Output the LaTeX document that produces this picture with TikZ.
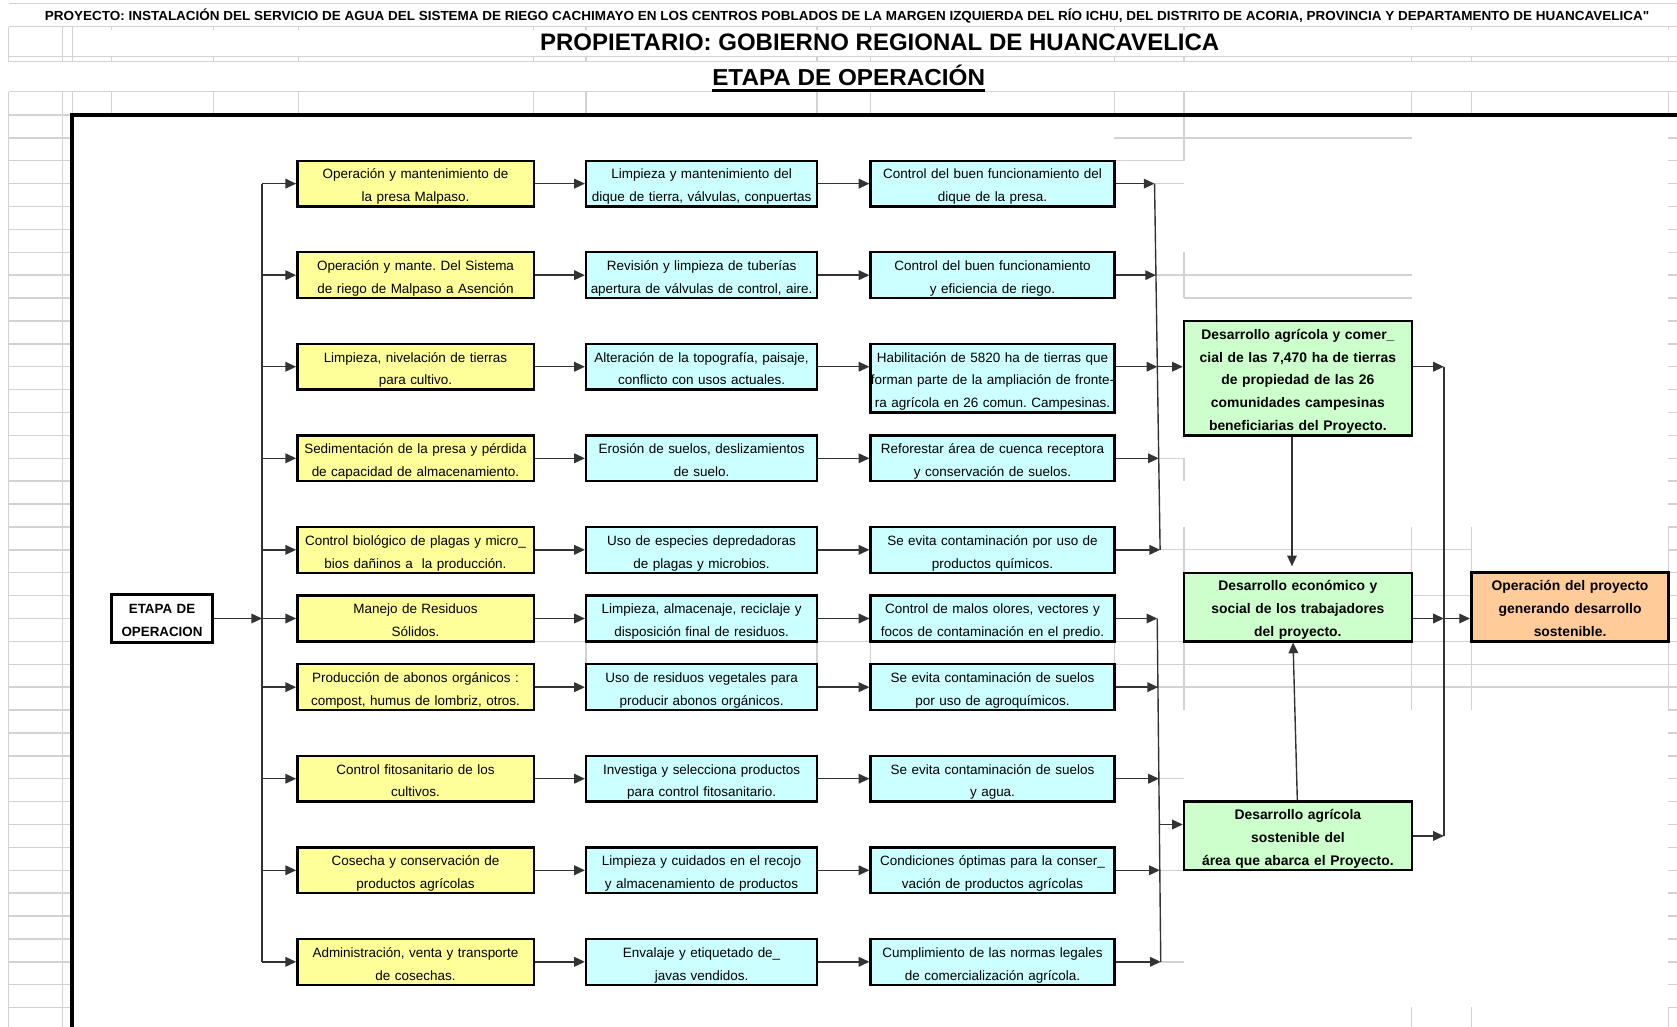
\documentclass[tikz,border=0pt]{standalone}
\usepackage{fontspec}
\setmainfont{Liberation Sans}
\newfontfamily\rawsans{Liberation Sans}[Ligatures=TeXOff]
\usepackage{graphicx}
\usetikzlibrary{arrows.meta,calc}
\definecolor{yfill}{HTML}{FFFF99}
\definecolor{cfill}{HTML}{CCFFFF}
\definecolor{gfill}{HTML}{CCFFCC}
\definecolor{ofill}{HTML}{FFCC99}
\definecolor{gridc}{HTML}{D2D2D2}
\frenchspacing
\begin{document}
\begin{tikzpicture}[x=1pt,y=-1pt,
  box/.style={draw=black, line width=2.2pt, inner sep=0pt, align=center, font=\fontsize{12.6}{21.4}\selectfont,
    execute at begin node={\rule{0pt}{16pt}}, execute at end node={\rule[-3.4pt]{0pt}{3.4pt}}},
  ybox/.style={box, fill=yfill, minimum width=221pt, minimum height=42.8pt, text width=219pt},
  cbox/.style={box, fill=cfill, minimum width=216pt, minimum height=42.8pt, text width=214pt},
  dbox/.style={box, fill=cfill, minimum width=228pt, minimum height=42.8pt, text width=227pt},
  gbox/.style={box, fill=gfill, minimum width=213pt, text width=211pt, font=\fontsize{13}{21.4}\selectfont\bfseries},
  obox/.style={box, fill=ofill, line width=3.2pt, minimum width=184pt, minimum height=64.2pt, text width=182pt, font=\fontsize{13}{21.4}\selectfont\bfseries},
  ebox/.style={box, fill=white, line width=2.8pt, minimum width=95pt, minimum height=44pt, text width=93pt, font=\fontsize{12.5}{21.4}\selectfont\bfseries},
  arr/.style={draw=black!80, line width=1.3pt, -{Triangle[length=10pt,width=9pt]}},
  ln/.style={draw=black!80, line width=1.3pt},
  gl/.style={draw=gridc, line width=1.3pt}]
\useasboundingbox (0,0) rectangle (1568,960);

% ---------- spreadsheet grid ----------
\foreach \yy in {3.1,25,53,57.7,85.7} {\draw[gl] (8,\yy) -- (1568,\yy);}
\foreach \xx in {8,58.6,68} {\draw[gl] (\xx,25) -- (\xx,57.7);}
\foreach \xx in {104,199.5,279,499,548,764,814,1042,1107,1320,1376,1560}
  {\draw[gl] (\xx,25) -- (\xx,28); \draw[gl] (\xx,53) -- (\xx,57.7);}
\foreach \xx in {8,58.6,68,104,199.5,279,499,548,764,814,1042,1107,1320,1376,1560}
  {\draw[gl] (\xx,85.7) -- (\xx,107.5);}
\draw[gl] (8,85.7) -- (8,960);
\draw[gl] (58.6,85.7) -- (58.6,960);
\foreach \k in {0,...,40} {
  \draw[gl] (8,107.5+21.4*\k) -- (67,107.5+21.4*\k);
  \draw[gl] (1560,107.5+21.4*\k) -- (1568,107.5+21.4*\k);}
\draw[gl] (1560,492.7) -- (1560,663.9);
\draw[gl] (1560,941.7) -- (1560,960);
\draw[gl] (1107,107.5) -- (1107,150.3);
\draw[gl] (1042,128.9) -- (1320,128.9);
\draw[gl] (1042,150.3) -- (1107,150.3);
\draw[gl] (1080,171.7) -- (1107,171.7);
\draw[gl] (1107,235.9) -- (1107,278.7);
\draw[gl] (1081,257.3) -- (1320,257.3);
\draw[gl] (1107,278.7) -- (1320,278.7);
\draw[gl] (1083,428.5) -- (1107,428.5);
\draw[gl] (1107,428.5) -- (1107,449.9);
\foreach \xx in {1107,1320,1376} {\draw[gl] (\xx,492.7) -- (\xx,663.9);}
\draw[gl] (1042,513.9) -- (1376,513.9);
\draw[gl] (1320,556.9) -- (1376,556.9);
\draw[gl] (499,599.7) -- (1107,599.7);
\draw[gl] (1320,599.7) -- (1376,599.7);
\foreach \xx in {548,764,814,1042} {\draw[gl] (\xx,599.7) -- (\xx,621.1);}
\draw[gl] (1042,621.1) -- (1568,621.1);
\draw[gl] (1042,642.5) -- (1568,642.5);
\draw[gl] (1084,728.1) -- (1107,728.1);
\draw[gl] (1084,813.7) -- (1107,813.7);
\draw[gl] (1085,899.3) -- (1107,899.3);
\foreach \xx in {1320,1376} {\draw[gl] (\xx,941.7) -- (\xx,960);}

% ---------- frame ----------
\draw[line width=3.2pt] (67.5,965) -- (67.5,107.5) -- (1575,107.5);

% ---------- titles ----------
\node[anchor=base, inner sep=0pt] (t1) at (792,19.6)
  {\resizebox{1500pt}{\height}{\fontsize{12.3}{14}\selectfont\bfseries PROYECTO: INSTALACIÓN DEL SERVICIO DE AGUA DEL SISTEMA DE RIEGO CACHIMAYO EN LOS CENTROS POBLADOS DE LA MARGEN IZQUIERDA DEL RÍO ICHU, DEL DISTRITO DE ACORIA, PROVINCIA Y DEPARTAMENTO DE HUANCAVELICA{\rawsans\bfseries\char34}}};
\node[anchor=base, inner sep=0pt] (t2) at (822.5,47.5)
  {\resizebox{635pt}{\height}{\fontsize{22.3}{26}\selectfont\bfseries PROPIETARIO: GOBIERNO REGIONAL DE HUANCAVELICA}};
\node[anchor=base, inner sep=0pt] (t3) at (793.5,79.5)
  {\resizebox{255pt}{\height}{\fontsize{21.6}{26}\selectfont\bfseries ETAPA DE OPERACIÓN}};
\draw[line width=2.2pt] ([yshift=-5pt]t3.base west) -- ([yshift=-5pt]t3.base east);

% ---------- boxes ----------
\node[ebox] (etapa) at (151.5,578.3) {ETAPA DE\\OPERACION};

\node[ybox] (y1) at (388.5,171.7) {Operación y mantenimiento de\\la presa Malpaso.};
\node[ybox] (y2) at (388.5,257.3) {Operación y mante. Del Sistema\\de riego de Malpaso a Asención};
\node[ybox] (y3) at (388.5,342.9) {Limpieza, nivelación de tierras\\para cultivo.};
\node[ybox] (y4) at (388.5,428.5) {Sedimentación de la presa y pérdida\\de capacidad de almacenamiento.};
\node[ybox] (y5) at (388.5,514.1) {Control biológico de plagas y micro\_\\bios dañinos a\ \ la producción.};
\node[ybox] (y6) at (388.5,578.3) {Manejo de Residuos\\Sólidos.};
\node[ybox] (y7) at (388.5,642.5) {Producción de abonos orgánicos :\\compost, humus de lombriz, otros.};
\node[ybox] (y8) at (388.5,728.1) {Control fitosanitario de los\\cultivos.};
\node[ybox] (y9) at (388.5,813.7) {Cosecha y conservación de\\productos agrícolas};
\node[ybox] (y10) at (388.5,899.3) {Administración, venta y transporte\\de cosechas.};

\node[cbox] (c1) at (656,171.7) {Limpieza y mantenimiento del\\dique de tierra, válvulas, conpuertas};
\node[cbox] (c2) at (656,257.3) {Revisión y limpieza de tuberías\\apertura de válvulas de control, aire.};
\node[cbox] (c3) at (656,342.9) {Alteración de la topografía, paisaje,\\conflicto con usos actuales.};
\node[cbox] (c4) at (656,428.5) {Erosión de suelos, deslizamientos\\de suelo.};
\node[cbox] (c5) at (656,514.1) {Uso de especies depredadoras\\de plagas y microbios.};
\node[cbox] (c6) at (656,578.3) {Limpieza, almacenaje, reciclaje y\\disposición final de residuos.};
\node[cbox] (c7) at (656,642.5) {Uso de residuos vegetales para\\producir abonos orgánicos.};
\node[cbox] (c8) at (656,728.1) {Investiga y selecciona productos\\para control fitosanitario.};
\node[cbox] (c9) at (656,813.7) {Limpieza y cuidados en el recojo\\y almacenamiento de productos};
\node[cbox] (c10) at (656,899.3) {Envalaje y etiquetado de\_\\javas vendidos.};

\node[dbox] (d1) at (928,171.7) {Control del buen funcionamiento del\\dique de la presa.};
\node[dbox] (d2) at (928,257.3) {Control del buen funcionamiento\\y eficiencia de riego.};
\node[dbox, minimum height=64.2pt] (d3) at (928,353.6) {Habilitación de 5820 ha de tierras que\\\makebox[227pt]{forman parte de la ampliación de fronte-}\\ra agrícola en 26 comun. Campesinas.};
\node[dbox] (d4) at (928,428.5) {Reforestar área de cuenca receptora\\y conservación de suelos.};
\node[dbox] (d5) at (928,514.1) {Se evita contaminación por uso de\\productos químicos.};
\node[dbox] (d6) at (928,578.3) {Control de malos olores, vectores y\\focos de contaminación en el predio.};
\node[dbox] (d7) at (928,642.5) {Se evita contaminación de suelos\\por uso de agroquímicos.};
\node[dbox] (d8) at (928,728.1) {Se evita contaminación de suelos\\y agua.};
\node[dbox] (d9) at (928,813.7) {Condiciones óptimas para la conser\_\\vación de productos agrícolas};
\node[dbox] (d10) at (928,899.3) {Cumplimiento de las normas legales\\de comercialización agrícola.};

\node[gbox, minimum height=107pt] (g1) at (1213.5,353.6) {Desarrollo agrícola y comer\_\\cial de las 7,470 ha de tierras\\de propiedad de las 26\\comunidades campesinas\\beneficiarias del Proyecto.};
\node[gbox, minimum height=64.2pt] (g2) at (1213.5,567.6) {Desarrollo económico y\\social de los trabajadores\\del proyecto.};
\node[gbox, minimum height=64.2pt] (g3) at (1213.5,781.6) {Desarrollo agrícola\\sostenible del\\área que abarca el Proyecto.};
\node[obox] (op) at (1468,567.6) {Operación del proyecto\\generando desarrollo\\sostenible.};

% ---------- connectors ----------
\foreach \i/\yy/\bx in {1/171.7/1079.5,2/257.3/1080.8,3/342.9/1082.1,4/428.5/1083.4,5/514.1/1084.7,6/578.3/1082,7/642.5/1082.8,8/728.1/1083.6,9/813.7/1084.4,10/899.3/1085.3}
{ \coordinate (b\i) at (\bx,\yy); \coordinate (l\i) at (245,\yy); }

\draw[ln] (l1) -- (l10);
\draw[arr] (etapa.east) -- (l6);
\foreach \i in {1,...,10} {
  \draw[arr] (l\i) -- (y\i.west |- l\i);
  \draw[arr] (y\i.east |- l\i) -- (c\i.west |- l\i);
  \draw[arr] (c\i.east |- l\i) -- (d\i.west |- l\i);
  \draw[arr] (d\i.east |- l\i) -- (b\i);
}
\draw[ln] (b1) -- (b5);
\draw[ln] (b6) -- (b10);
\draw[arr] (b3) -- (g1.west |- b3);
\coordinate (bl) at (1084,770.9);
\draw[arr] (bl) -- (g3.west |- bl);

\coordinate (r1) at (1350,342.9);
\coordinate (r2) at (1350,578.3);
\coordinate (r3) at (1350,781.6);
\draw[arr] (g1.east |- r1) -- (r1);
\draw[arr] (g2.east |- r2) -- (r2);
\draw[arr] (g3.east |- r3) -- (r3);
\draw[ln] (r1) -- (r3);
\draw[arr] (r2) -- (op.west |- r2);

\draw[arr, shorten >=5pt] ([xshift=-5.5pt]g1.south) -- ([xshift=-5.5pt]g2.north);
\draw[arr] ([xshift=-0.5pt]g3.north) -- ([xshift=-4.5pt]g2.south);
\end{tikzpicture}
\end{document}
